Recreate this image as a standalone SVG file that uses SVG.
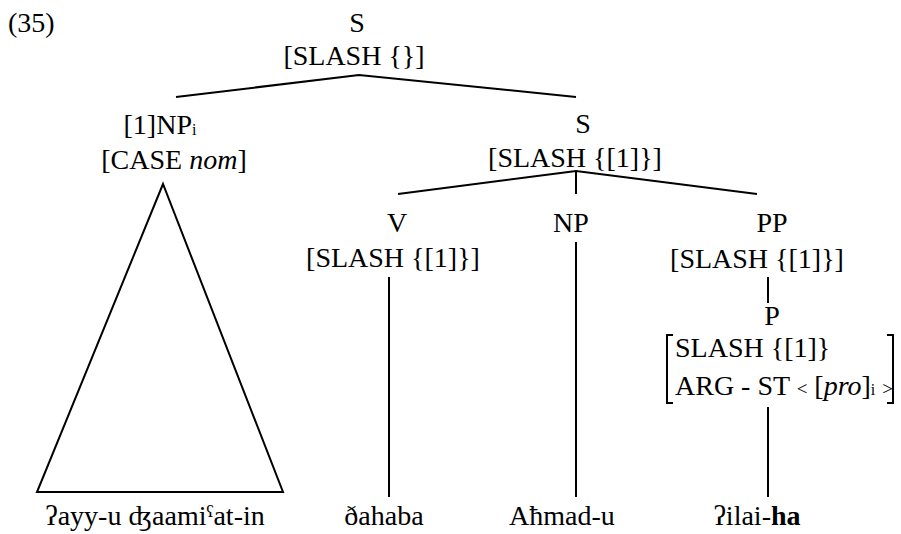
<svg xmlns="http://www.w3.org/2000/svg" width="901" height="534" viewBox="0 0 901 534">
<defs>
<path id="vline" d="M0,0 V1"/>
</defs>
<rect width="901" height="534" fill="#fff"/>
<g font-family="Liberation Serif" font-size="28" fill="#000">
<text id="label" x="8" y="32">(35)</text>
<g id="n-root" text-anchor="middle">
<text x="357" y="32">S</text>
<text x="354" y="65">[SLASH {}]</text>
</g>
<g id="n-np1" text-anchor="middle">
<text x="160" y="134">[1]NP<tspan font-size="16" dy="1">i</tspan></text>
<text x="174" y="169">[CASE <tspan font-style="italic">nom</tspan>]</text>
</g>
<g id="n-s2" text-anchor="middle">
<text x="583" y="133">S</text>
<text x="575" y="167">[SLASH {[1]}]</text>
</g>
<g id="n-v" text-anchor="middle">
<text x="397" y="232">V</text>
<text x="393" y="267">[SLASH {[1]}]</text>
</g>
<g id="n-np2" text-anchor="middle">
<text x="571" y="232">NP</text>
</g>
<g id="n-pp" text-anchor="middle">
<text x="772" y="232">PP</text>
<text x="757" y="268">[SLASH {[1]}]</text>
</g>
<g id="n-p">
<text x="772" y="325" text-anchor="middle">P</text>
<path d="M673,335 H667 V403 H673 M887,335 H893 V403 H887" fill="none" stroke="#000" stroke-width="2"/>
<text x="675" y="357">SLASH {[1]}</text>
<text x="675" y="395">ARG - ST <tspan font-size="19">&lt;</tspan> [<tspan font-style="italic">pro</tspan>]<tspan font-size="16">i</tspan> <tspan font-size="19">&gt;</tspan></text>
</g>
<g id="leaves" text-anchor="middle">
<text id="leaf-1" x="155" y="525">ʔayy-u ʤaamiˤat-in</text>
<text id="leaf-2" x="384" y="525">ðahaba</text>
<text id="leaf-3" x="562" y="525">Aħmad-u</text>
<text id="leaf-4" x="757" y="525">ʔilai-<tspan font-weight="bold">ha</tspan></text>
</g>
</g>
<g id="connectors" fill="none" stroke="#000" stroke-width="2">
<polyline points="176,97 359,75 576,97"/>
<polyline points="398,194 576,171 757,194"/>
<line x1="576" y1="171" x2="576" y2="194"/>
<line x1="389" y1="277" x2="389" y2="497"/>
<line x1="576" y1="242" x2="576" y2="497"/>
<line x1="768" y1="277" x2="768" y2="303"/>
<line x1="768" y1="407" x2="768" y2="497"/>
<polygon points="163,184 37,492 283,492"/>
</g>
</svg>
